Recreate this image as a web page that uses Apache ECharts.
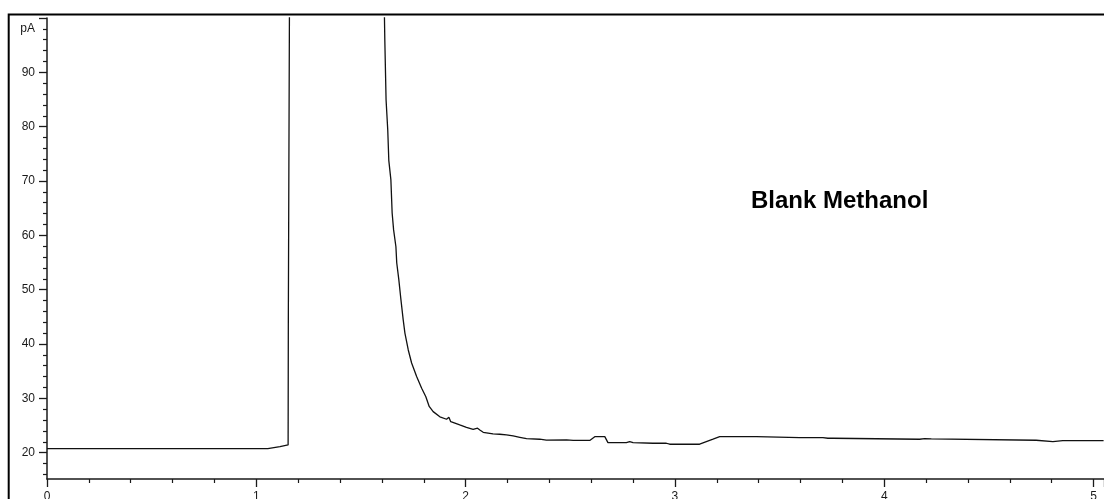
<!DOCTYPE html>
<html>
<head>
<meta charset="utf-8">
<script src="https://cdn.jsdelivr.net/npm/echarts@6/dist/echarts.min.js"></script>
<style>
html,body{margin:0;padding:0;background:#fff;}
#chart{width:1104px;height:499px;}
</style>
</head>
<body>
<div id="chart"></div>
<script>
// retention time (min)
var times = [0, 1.055, 1.056, 1.113, 1.114, 1.152, 1.153, 1.160, 1.161, 1.609,
  1.611, 1.614, 1.620, 1.628, 1.633, 1.643, 1.649, 1.656, 1.667, 1.671, 1.681, 1.690,
  1.702, 1.710, 1.726, 1.742, 1.766, 1.790, 1.810, 1.817, 1.826, 1.845, 1.877, 1.909,
  1.920, 1.929, 1.972, 2.004, 2.036, 2.057, 2.068, 2.084, 2.131, 2.163, 2.195, 2.227,
  2.259, 2.291, 2.354, 2.386, 2.482, 2.490, 2.514, 2.593, 2.617, 2.665, 2.680, 2.768,
  2.784, 2.800, 2.895, 2.959, 2.975, 3.118, 3.182, 3.214, 3.389, 3.397, 3.596, 3.707,
  3.715, 3.731, 3.755, 3.763, 4.169, 4.177, 4.193, 4.225, 4.233, 4.726, 4.734, 4.806,
  4.814, 4.853, 4.941, 4.949, 4.957, 5.048];
// detector signal (pA)
var signal = [20.74, 20.74, 21.1, 21.1, 21.42, 21.42, 44.73, 44.73, 130, 130,
  103, 95.9, 84.9, 79.4, 73.8, 70.2, 64.1, 61.0, 57.9, 54.9, 51.8, 48.5,
  44.4, 42.0, 38.9, 36.5, 34.0, 31.85, 30.3, 30.0, 28.5, 27.55, 26.6, 26.15,
  26.5, 25.7, 25.1, 24.67, 24.3, 24.5, 24.18, 23.75, 23.44, 23.39, 23.26, 23.07,
  22.83, 22.58, 22.47, 22.3, 22.34, 22.52, 22.25, 22.25, 22.94, 22.94, 21.84, 21.84,
  22.02, 21.84, 21.73, 21.73, 21.55, 21.55, 22.47, 22.94, 22.94, 22.76, 22.76, 22.76,
  22.47, 22.65, 22.65, 22.47, 22.47, 22.28, 22.58, 22.52, 22.28, 22.28, 22.02, 22.02,
  22.15, 22.2, 22.2, 22.47, 22.2, 22.2];
var yMajorTicks = [20, 30, 40, 50, 60, 70, 80, 90, 100];
var yMajorLabels = ['20', '30', '40', '50', '60', '70', '80', '90', 'pA'];
var yMinorTicks = [16, 18, 22, 24, 26, 28, 32, 34, 36, 38, 42, 44, 46, 48, 52, 54, 56, 58,
  62, 64, 66, 68, 72, 74, 76, 78, 82, 84, 86, 88, 92, 94, 96, 98];
var sampleName = 'Blank Methanol';

var data = times.map(function (t, i) { return [t, signal[i]]; });
var font = 'Liberation Sans, Arial, sans-serif';
var ink = '#1a1a1a';

var chart = echarts.init(document.getElementById('chart'), null, {renderer: 'canvas'});
chart.setOption({
  animation: false,
  backgroundColor: '#fff',
  grid: {left: 47, top: 18, right: 0, bottom: 20, containLabel: false, outerBoundsMode: 'none'},
  xAxis: {
    type: 'value', min: 0, max: 5.05, interval: 1,
    axisLine: {show: true, onZero: false, lineStyle: {color: ink, width: 1.5}},
    axisTick: {show: true, length: 8, lineStyle: {color: ink, width: 1.3}},
    minorTick: {show: true, splitNumber: 5, length: 4, lineStyle: {color: ink, width: 1.2}},
    axisLabel: {show: true, margin: 12, fontSize: 12, color: ink, fontFamily: font,
      showMaxLabel: false, hideOverlap: false, formatter: function (v) { return String(v); }},
    splitLine: {show: false}, minorSplitLine: {show: false}
  },
  yAxis: [{
    type: 'value', min: 15.15, max: 100, position: 'left',
    axisLine: {show: true, lineStyle: {color: ink, width: 1.5}},
    axisTick: {show: true, length: 8, customValues: yMajorTicks, lineStyle: {color: ink, width: 1.3}},
    axisLabel: {show: true, margin: 12, fontSize: 12, color: ink, fontFamily: font,
      customValues: yMajorTicks, verticalAlignMaxLabel: 'top',
      rich: {u: {fontSize: 12, color: ink, fontFamily: font, padding: [5, 0, 0, 0]}},
      formatter: function (v) {
        var i = yMajorTicks.indexOf(Math.round(v));
        if (i < 0) return '';
        return i === yMajorTicks.length - 1 ? '{u|' + yMajorLabels[i] + '}' : yMajorLabels[i];
      }},
    splitLine: {show: false}
  }, {
    type: 'value', min: 15.15, max: 100, position: 'left', offset: 0,
    axisLine: {show: false},
    axisTick: {show: true, length: 4, customValues: yMinorTicks, lineStyle: {color: ink, width: 1.2}},
    axisLabel: {show: false},
    splitLine: {show: false}
  }],
  graphic: [
    {type: 'rect', silent: true, z: 100,
      shape: {x: 8.7, y: 14.5, width: 1200, height: 600},
      style: {fill: 'none', stroke: '#000', lineWidth: 2}},
    {type: 'text', silent: true, z: 100, left: 751, top: 189,
      style: {text: sampleName, fill: '#000', font: 'bold 24px ' + font}}
  ],
  series: [{
    type: 'line', data: data, showSymbol: false, symbol: 'none', clip: true,
    lineStyle: {color: '#111', width: 1.3}, yAxisIndex: 0
  }]
});
</script>
</body>
</html>
